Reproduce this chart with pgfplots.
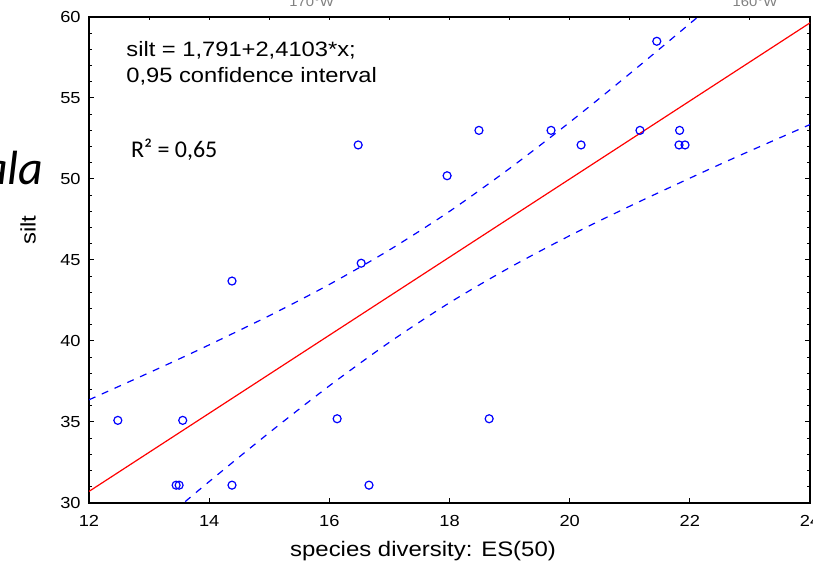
\documentclass[border=0pt]{standalone}
\usepackage{pgfplots}
\pgfplotsset{compat=1.18}
\usepackage{fontspec}
\setmainfont{Liberation Sans}[FakeStretch=1.14]
\newfontfamily\calibri{Carlito}

% regression line and 0.95 confidence band
\pgfplotstableread{
x     up     lo
12    36.37  25.06
13    38.04  28.22
13.5  38.89  29.77
14    39.76  31.32
15    41.56  34.34
16    43.49  37.23
17    45.62  39.92
18    48.00  42.36
19    50.65  44.53
20    53.50  46.50
21    56.50  48.32
22    59.59  50.05
22.5  61.15  50.90
23    62.73  51.73
24    65.92  53.36
}\band

\begin{document}
\begin{tikzpicture}[x=1pt,y=1pt]
\useasboundingbox (0,0) rectangle (406.5,282.5);
\begin{axis}[
  at={(44.5pt,31pt)}, anchor=south west,
  scale only axis, width=360.5pt, height=243pt,
  xmin=12, xmax=24, ymin=30, ymax=60,
  xtick={12,14,...,24}, ytick={30,35,...,60},
  minor y tick num=4,
  xtick pos=left, ytick pos=both,
  tick align=inside,
  major tick length=2.4pt, minor tick length=1.5pt,
  axis line style={line width=0.7pt},
  every tick/.style={black, line width=0.5pt},
  /pgf/number format/assume math mode=true,
  ticklabel style={font=\fontsize{8}{9.6}\selectfont},
  xticklabel style={inner sep=0pt, yshift=-6pt},
  yticklabel style={inner sep=0pt, xshift=-4pt},
]
\addplot[red, line width=0.6pt] coordinates {(12,30.715) (24,59.638)};
\addplot[blue, line width=0.6pt, dash pattern=on 3.5pt off 3.5pt, smooth]
  table[x=x, y=up] {\band};
\addplot[blue, line width=0.6pt, dash pattern=on 3.5pt off 3.5pt, smooth]
  table[x=x, y=lo] {\band};
\addplot[only marks, mark=o, mark size=2pt, blue, mark options={line width=0.6pt}]
  coordinates {
  (12.48,35.1)(13.56,35.1)(13.45,31.1)(13.50,31.1)(14.38,31.1)
  (14.38,43.7)(16.13,35.2)(16.66,31.1)(16.48,52.1)(16.53,44.8)
  (17.96,50.2)(18.49,53.0)(18.66,35.2)(19.69,53.0)(20.19,52.1)
  (21.17,53.0)(21.45,58.5)(21.83,53.0)(21.82,52.1)(21.92,52.1)};
\end{axis}
% top ticks (every unit)
\begin{axis}[
  at={(44.5pt,31pt)}, anchor=south west,
  scale only axis, width=360.5pt, height=243pt,
  xmin=12, xmax=24, ymin=30, ymax=60,
  axis x line*=top, axis y line=none,
  xtick={13,...,23}, xticklabels={},
  tick align=inside, major tick length=1.6pt,
  axis line style={line width=0.7pt},
  every tick/.style={black, line width=0.5pt},
]
\end{axis}
\node[anchor=base west, inner sep=0pt, font=\fontsize{10.4}{12}\selectfont] at (63,254.2) {silt = 1,791+2,4103*x;};
\node[anchor=base west, inner sep=0pt, font=\fontsize{10.4}{12}\selectfont] at (63,241) {0,95 confidence interval};
\node[anchor=base west, inner sep=0pt, font=\calibri\fontsize{12}{14}\selectfont] at (65.3,203.5) {R² = 0,65};
\node[anchor=base east, inner sep=0pt, font=\calibri\itshape\fontsize{24}{28}\selectfont] at (22,190) {ala};
\node[rotate=90, font=\fontsize{10.5}{12}\selectfont] at (14,167.5) {silt};
\node[anchor=base, font=\fontsize{10.5}{12}\selectfont] at (211.5,4) {species diversity: ES(50)};
\node[anchor=base, gray, font=\fontsize{6.5}{7}\selectfont] at (155.8,279.3) {170°W};
\node[anchor=base, gray, font=\fontsize{6.5}{7}\selectfont] at (377.5,279.3) {160°W};
\end{tikzpicture}
\end{document}
